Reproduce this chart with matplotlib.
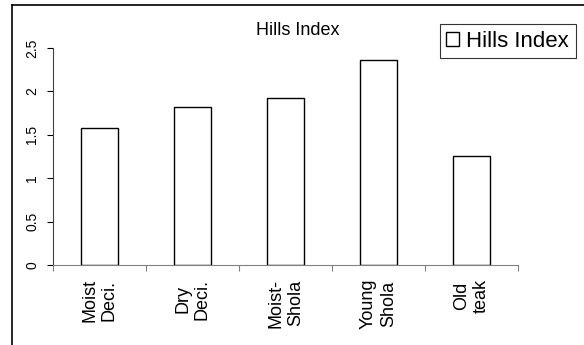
import matplotlib.pyplot as plt
import numpy as np
from matplotlib.lines import Line2D

plt.rcParams['font.family'] = ['Liberation Sans', 'DejaVu Sans']

categories = ['Moist\nDeci.', 'Dry\nDeci.', 'Moist-\nShola', 'Young\nShola', 'Old\nteak']
hills_index = [1.58, 1.82, 1.92, 2.36, 1.25]
yticks = [0, 0.5, 1, 1.5, 2, 2.5]
ytick_labels = ['0', '0.5', '1', '1.5', '2', '2.5']

fig = plt.figure(figsize=(5.84, 3.45), dpi=100)
ax = fig.add_axes([0.0908, 0.232, 0.796, 0.629])

x = np.arange(len(categories)) + 0.5
ax.bar(x, hills_index, width=0.4, color='white', edgecolor='black',
       linewidth=1.0, label='Hills Index')

ax.set_xlim(0, len(categories))
ax.set_ylim(0, 2.5)

# boundaries get the tick marks, centres get the labels
ax.set_xticks(np.arange(len(categories) + 1))
ax.set_xticklabels([])
ax.set_xticks(x, minor=True)
ax.set_xticklabels(categories, minor=True, rotation=90, fontsize=13,
                   ha='center', va='top', multialignment='center')
ax.tick_params(axis='x', which='minor', length=0, pad=10)
ax.tick_params(axis='x', which='major', length=4, direction='out', color='#808080')

ax.set_yticks(yticks)
ax.set_yticklabels(ytick_labels, rotation=90, va='center', fontsize=10)
ax.tick_params(axis='y', length=4, direction='out', pad=6)

for s in ['top', 'right']:
    ax.spines[s].set_visible(False)
ax.spines['bottom'].set_color('#808080')
ax.spines['left'].set_color('#404040')

fig.text(0.509, 0.913, 'Hills Index', ha='center', va='center', fontsize=13)

leg = fig.legend(loc='upper right', bbox_to_anchor=(0.986, 0.930), fontsize=16,
                 frameon=True, fancybox=False, handlelength=0.55, handleheight=0.55,
                 handletextpad=0.35, borderpad=0.3, borderaxespad=0)
leg.get_frame().set_edgecolor('black')
leg.get_frame().set_linewidth(0.8)

# outer chart frame (only left and top edges show in the crop)
fig.add_artist(Line2D([12 / 584, 12 / 584], [0, 1 - 5 / 345], color='black', lw=1.2))
fig.add_artist(Line2D([12 / 584, 1], [1 - 5 / 345, 1 - 5 / 345], color='black', lw=1.2))

fig.savefig('out.png', dpi=100)
